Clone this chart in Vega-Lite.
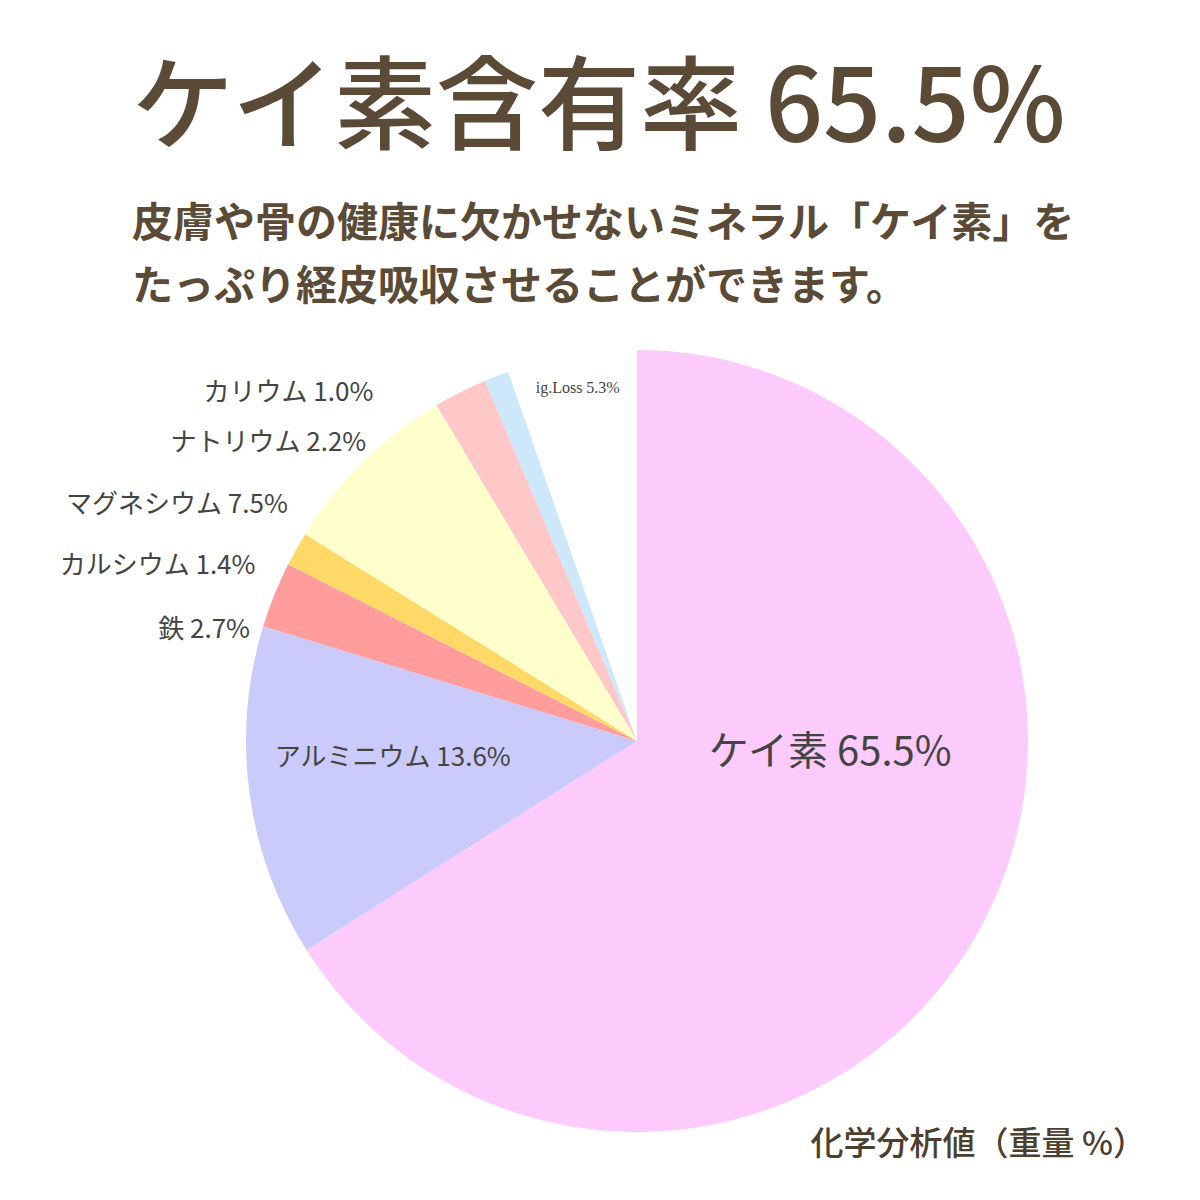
{
  "$schema": "https://vega.github.io/schema/vega-lite/v6.json",
  "autosize": "none",
  "width": 1126,
  "height": 918,
  "padding": {"left": 74, "top": 282, "right": 0, "bottom": 0},
  "background": "#ffffff",
  "view": {"stroke": null},
  "title": {
    "text": "ケイ素含有率 65.5%",
    "subtitle": ["皮膚や骨の健康に欠かせないミネラル「ケイ素」を", "たっぷり経皮吸収させることができます。"],
    "anchor": "start",
    "align": "left",
    "frame": "group",
    "dx": 58,
    "offset": -27,
    "font": "Noto Sans CJK JP",
    "fontSize": 102,
    "fontWeight": 500,
    "color": "#5B4A36",
    "subtitleFont": "Noto Sans CJK JP",
    "subtitleFontSize": 41,
    "subtitleFontWeight": "bold",
    "subtitleColor": "#5B4A36",
    "subtitleLineHeight": 63,
    "subtitlePadding": 42
  },
  "data": {
    "values": [
      {"name": "ケイ素", "value": 65.5, "label": "ケイ素 65.5%", "order": 1},
      {"name": "アルミニウム", "value": 13.6, "label": "アルミニウム 13.6%", "order": 2},
      {"name": "鉄", "value": 2.7, "label": "鉄 2.7%", "order": 3},
      {"name": "カルシウム", "value": 1.4, "label": "カルシウム 1.4%", "order": 4},
      {"name": "マグネシウム", "value": 7.5, "label": "マグネシウム 7.5%", "order": 5},
      {"name": "ナトリウム", "value": 2.2, "label": "ナトリウム 2.2%", "order": 6},
      {"name": "カリウム", "value": 1.0, "label": "カリウム 1.0%", "order": 7},
      {"name": "ig.Loss", "value": 5.3, "label": "ig.Loss 5.3%", "order": 8}
    ]
  },
  "encoding": {
    "theta": {"field": "value", "type": "quantitative", "stack": true},
    "order": {"field": "order", "type": "quantitative"}
  },
  "layer": [
    {
      "mark": {"type": "arc", "outerRadius": 391, "stroke": null},
      "encoding": {
        "color": {
          "field": "name",
          "type": "nominal",
          "scale": {
            "domain": ["ケイ素", "アルミニウム", "鉄", "カルシウム", "マグネシウム", "ナトリウム", "カリウム", "ig.Loss"],
            "range": ["#FCCBFC", "#CACBFA", "#FF9D9D", "#FFD968", "#FFFFCC", "#FEC8C9", "#CCE8FA", "#FFFFFF"]
          },
          "legend": null
        }
      }
    },
    {
      "mark": {"type": "text", "radius": 200, "dx": 18, "dy": -85, "font": "Noto Sans CJK JP", "fontSize": 40, "color": "#444444", "align": "center", "baseline": "middle"},
      "encoding": {"text": {"condition": {"test": "datum.name === 'ケイ素'", "field": "label"}, "value": ""}}
    },
    {
      "mark": {"type": "text", "radius": 200, "dx": -46, "dy": -10, "font": "Noto Sans CJK JP", "fontSize": 26, "color": "#444444", "align": "center", "baseline": "middle"},
      "encoding": {"text": {"condition": {"test": "datum.name === 'アルミニウム'", "field": "label"}, "value": ""}}
    },
    {
      "mark": {"type": "text", "radius": 355, "dx": 0, "dy": -3, "font": "Liberation Serif", "fontSize": 16, "color": "#444444", "align": "center", "baseline": "middle"},
      "encoding": {"text": {"condition": {"test": "datum.name === 'ig.Loss'", "field": "label"}, "value": ""}}
    },
    {
      "mark": {"type": "text", "radius": 400, "dx": -16, "dy": 39, "font": "Noto Sans CJK JP", "fontSize": 26, "color": "#444444", "align": "right", "baseline": "middle"},
      "encoding": {"text": {"condition": {"test": "datum.name === '鉄'", "field": "label"}, "value": ""}}
    },
    {
      "mark": {"type": "text", "radius": 400, "dx": -33, "dy": 21, "font": "Noto Sans CJK JP", "fontSize": 26, "color": "#444444", "align": "right", "baseline": "middle"},
      "encoding": {"text": {"condition": {"test": "datum.name === 'カルシウム'", "field": "label"}, "value": ""}}
    },
    {
      "mark": {"type": "text", "radius": 400, "dx": -69, "dy": 50, "font": "Noto Sans CJK JP", "fontSize": 26, "color": "#444444", "align": "right", "baseline": "middle"},
      "encoding": {"text": {"condition": {"test": "datum.name === 'マグネシウム'", "field": "label"}, "value": ""}}
    },
    {
      "mark": {"type": "text", "radius": 400, "dx": -90, "dy": 59, "font": "Noto Sans CJK JP", "fontSize": 26, "color": "#444444", "align": "right", "baseline": "middle"},
      "encoding": {"text": {"condition": {"test": "datum.name === 'ナトリウム'", "field": "label"}, "value": ""}}
    },
    {
      "mark": {"type": "text", "radius": 400, "dx": -120, "dy": 25, "font": "Noto Sans CJK JP", "fontSize": 26, "color": "#444444", "align": "right", "baseline": "middle"},
      "encoding": {"text": {"condition": {"test": "datum.name === 'カリウム'", "field": "label"}, "value": ""}}
    },
    {
      "data": {"values": [{"caption": "化学分析値（重量 %）"}]},
      "mark": {"type": "text", "font": "Noto Sans CJK JP", "fontSize": 33, "fontWeight": 500, "color": "#4D3F2E", "align": "right", "baseline": "middle"},
      "encoding": {
        "theta": null,
        "order": null,
        "x": {"value": 1072},
        "y": {"value": 863},
        "text": {"field": "caption", "type": "nominal"}
      }
    }
  ]
}
